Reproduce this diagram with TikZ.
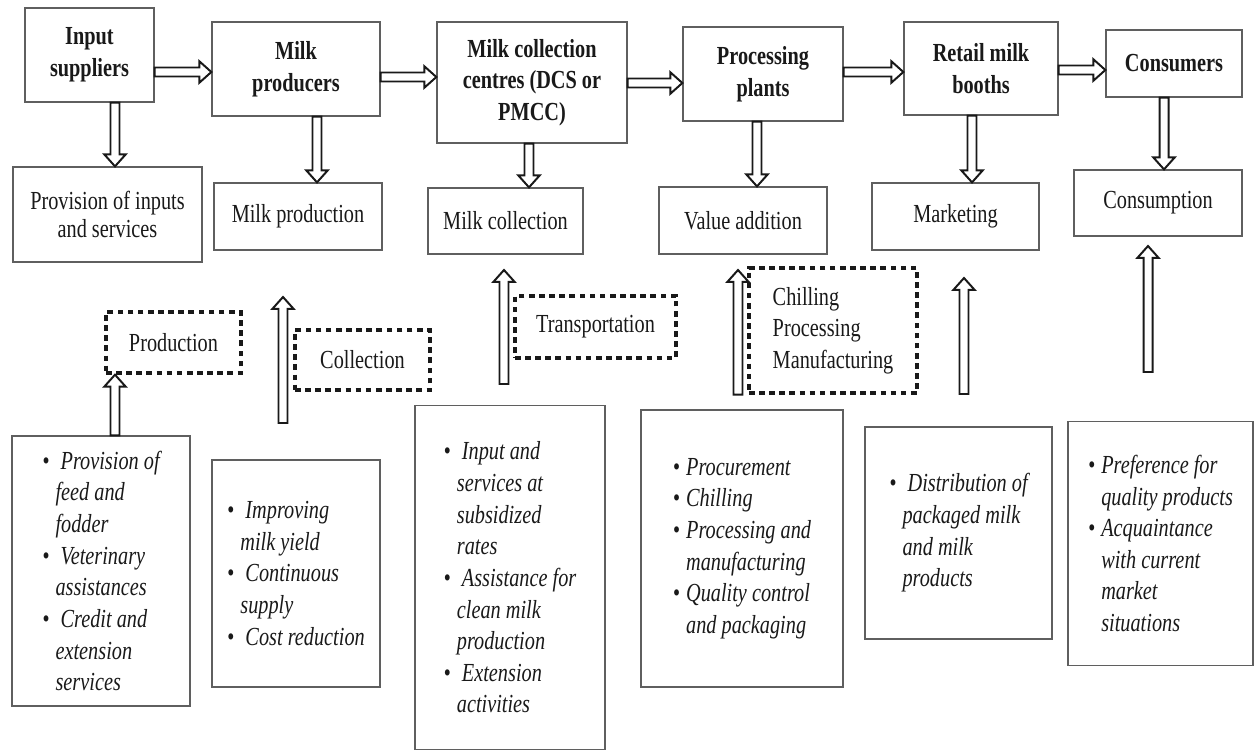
\documentclass[tikz,border=0pt]{standalone}
\usepackage{fontspec}
\setmainfont{Liberation Serif}[FakeStretch=0.78]
\usepackage{tikz}
\usetikzlibrary{positioning,calc}
\definecolor{boxgray}{RGB}{95, 95, 95}
\definecolor{inkblack}{RGB}{25, 25, 25}
\newcommand{\chainfont}{\fontsize{18.5}{22.5}\selectfont}
\newcommand{\itm}{\makebox[0.33cm][l]{\textbullet}}
\newcommand{\ind}{\hspace*{0.33cm}}
% outlined block arrow from #1 to #2 (shaft 3.2pt, head 7.6pt, head length 8.5pt)
\newcommand{\blockarrow}[2]{%
  \draw[fatarr] let \p1=(#1), \p2=(#2), \n1={veclen(\x2-\x1,\y2-\y1)},
      \n2={(\x2-\x1)/\n1}, \n3={(\y2-\y1)/\n1}, \n4={\n1-8.5} in
    ({\x1-(\n3)*3.2},{\y1+(\n2)*3.2})
 -- ({\x1+(\n2)*(\n4)-(\n3)*3.2},{\y1+(\n3)*(\n4)+(\n2)*3.2})
 -- ({\x1+(\n2)*(\n4)-(\n3)*7.6},{\y1+(\n3)*(\n4)+(\n2)*7.6})
 -- (\p2)
 -- ({\x1+(\n2)*(\n4)+(\n3)*7.6},{\y1+(\n3)*(\n4)-(\n2)*7.6})
 -- ({\x1+(\n2)*(\n4)+(\n3)*3.2},{\y1+(\n3)*(\n4)-(\n2)*3.2})
 -- ({\x1+(\n3)*3.2},{\y1-(\n2)*3.2}) -- cycle;}

\begin{document}
\begin{tikzpicture}[x=0.025cm, y=-0.025cm]
\tikzset{
  actor/.style={rectangle, draw=boxgray, line width=0.9pt, fill=white, align=center,
    font=\chainfont\bfseries, text=inkblack},
  role/.style={rectangle, draw=boxgray, line width=0.9pt, fill=white, align=center,
    font=\chainfont, text=inkblack},
  phase/.style={rectangle, draw=inkblack, line width=2.4pt, dash pattern=on 4pt off 3.2pt,
    align=left, font=\chainfont, text=inkblack},
  duty/.style={rectangle, draw=boxgray, line width=0.9pt, align=left,
    font=\chainfont\itshape, text=inkblack},
  fatarr/.style={draw=inkblack, line width=1.4pt, fill=white, line join=miter}
}
\useasboundingbox (0,0) rectangle (1254,751);
\node[actor, minimum width=3.225cm, minimum height=2.35cm]  (inp)  at (89.5,55)  {Input\\suppliers};
\node[actor, minimum width=4.2cm,   minimum height=2.35cm]  (prod) at (296,69)   {Milk\\producers};
\node[actor, minimum width=4.75cm,  minimum height=3.025cm] (mcc)  at (532,82.5) {Milk collection\\centres (DCS or\\PMCC)};
\node[actor, minimum width=4.0cm,   minimum height=2.35cm]  (proc) at (763,74)   {Processing\\plants};
\node[actor, minimum width=3.85cm,  minimum height=2.325cm] (ret)  at (981,68.5) {Retail milk\\booths};
\node[actor, minimum width=3.4cm,   minimum height=1.675cm] (cons) at (1174,63.5) {Consumers};
\node[role, minimum width=4.725cm, minimum height=2.375cm, font=\fontsize{18.5}{20.5}\selectfont] (act1) at (107.5,214.5) {Provision of inputs\\and services};
\node[role, minimum width=4.2cm,   minimum height=1.675cm] (act2) at (298,216.5)  {Milk production};
\node[role, minimum width=3.875cm, minimum height=1.65cm]  (act3) at (505.5,221)  {Milk collection};
\node[role, minimum width=4.2cm,   minimum height=1.675cm] (act4) at (743,220.5)  {Value addition};
\node[role, minimum width=4.175cm, minimum height=1.675cm] (act5) at (955.5,216.5) {Marketing};
\node[role, minimum width=4.2cm,   minimum height=1.65cm]  (act6) at (1158,203)   {Consumption};
\node[phase, minimum width=3.375cm, minimum height=1.525cm] (ph1) at (173.5,342.5) {Production};
\node[phase, minimum width=3.375cm, minimum height=1.5cm]   (ph2) at (362.5,360)   {Collection};
\node[phase, minimum width=4.025cm, minimum height=1.55cm]  (ph3) at (595.5,327)   {Transportation};
\node[phase, minimum width=4.2cm,   minimum height=3.125cm] (ph4) at (833,330.5)  {Chilling\\Processing\\Manufacturing};
\node[duty, minimum width=4.45cm, minimum height=6.75cm] (b1) at (101,571)
  {\itm\ Provision of\\\ind feed and\\\ind fodder\\\itm\ Veterinary\\\ind assistances\\\itm\ Credit and\\\ind extension\\\ind services};
\node[duty, minimum width=4.2cm, minimum height=5.675cm] (b2) at (296,573.5)
  {\itm\ Improving\\\ind milk yield\\\itm\ Continuous\\\ind supply\\\itm\ Cost reduction};
\node[duty, minimum width=4.75cm, minimum height=8.6cm] (b3) at (510,577.5)
  {\itm\ Input and\\\ind services at\\\ind subsidized\\\ind rates\\\itm\ Assistance for\\\ind clean milk\\\ind production\\\itm\ Extension\\\ind activities};
\node[duty, minimum width=5.05cm, minimum height=6.925cm] (b4) at (742,548.5)
  {\itm Procurement\\\itm Chilling\\\itm Processing and\\\ind manufacturing\\\itm Quality control\\\ind and packaging};
\node[duty, minimum width=4.675cm, minimum height=5.3cm] (b5) at (958.5,533)
  {\itm\ Distribution of\\\ind packaged milk\\\ind and milk\\\ind products};
\node[duty, minimum width=4.625cm, minimum height=6.1cm] (b6) at (1160.5,543.5)
  {\itm Preference for\\\ind quality products\\\itm Acquaintance\\\ind with current\\\ind market\\\ind situations};
\coordinate (up2a) at (283,423);
\coordinate (up2b) at (283,297);
\coordinate (up3a) at (504,384);
\coordinate (up3b) at (504,270);
\coordinate (up4b) at (738,270);
\coordinate (up5a) at (964,394);
\coordinate (up5b) at (964,278);
\coordinate (up6a) at (1148,372);
\coordinate (up6b) at (1148,246);
\blockarrow{inp.east |- 0,72}{prod.west |- 0,72}
\blockarrow{prod.east |- 0,77}{mcc.west |- 0,77}
\blockarrow{mcc.east |- 0,83}{proc.west |- 0,83}
\blockarrow{proc.east |- 0,72}{ret.west |- 0,72}
\blockarrow{ret.east |- 0,70}{cons.west |- 0,70}
\blockarrow{115,0 |- inp.south}{115,0 |- act1.north}
\blockarrow{317,0 |- prod.south}{317,0 |- act2.north}
\blockarrow{529,0 |- mcc.south}{529,0 |- act3.north}
\blockarrow{757,0 |- proc.south}{757,0 |- act4.north}
\blockarrow{972,0 |- ret.south}{972,0 |- act5.north}
\blockarrow{1164,0 |- cons.south}{1164,0 |- act6.north}
\blockarrow{115,0 |- b1.north}{115,0 |- ph1.south}
\blockarrow{up2a}{up2b}
\blockarrow{up3a}{up3b}
\blockarrow{738,0 |- ph4.south}{up4b}
\blockarrow{up5a}{up5b}
\blockarrow{up6a}{up6b}
\end{tikzpicture}
\end{document}
